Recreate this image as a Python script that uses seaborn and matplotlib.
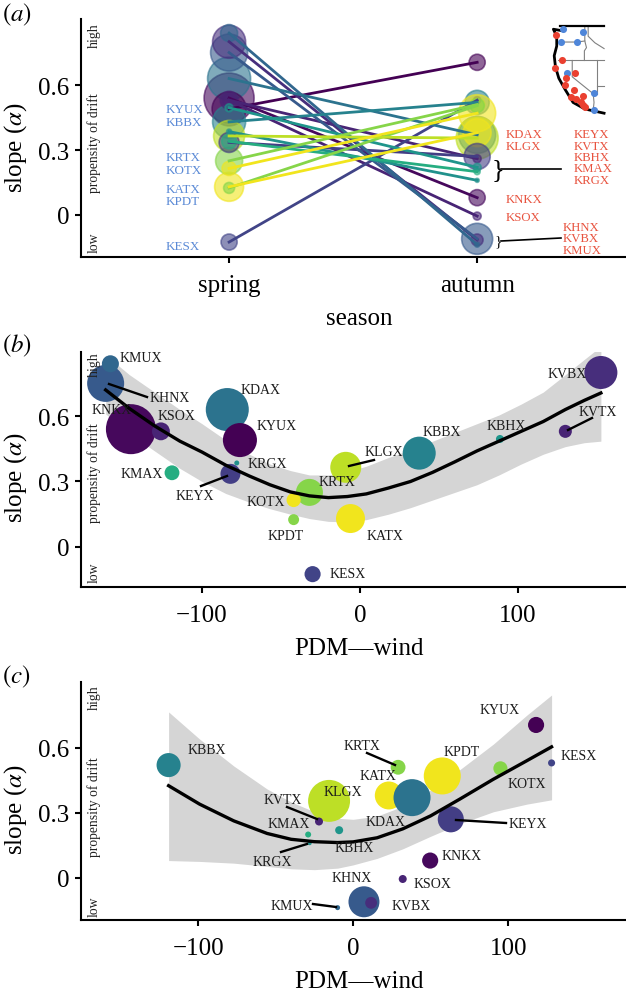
import numpy as np
import pandas as pd

import matplotlib.pyplot as plt
import matplotlib.transforms as mtrans
from matplotlib.lines import Line2D

import seaborn as sns

WIDTH, HEIGHT = 626, 995
DPI = 100

stations = ['KNKX', 'KDAX', 'KHNX', 'KYUX', 'KVBX', 'KBBX', 'KLGX', 'KATX', 'KRTX', 'KEYX',
            'KSOX', 'KMUX', 'KESX', 'KMAX', 'KOTX', 'KVTX', 'KPDT', 'KBHX', 'KRGX']
spring_slope = [0.54, 0.63, 0.75, 0.49, 0.80, 0.43, 0.365, 0.13, 0.25, 0.335,
                0.53, 0.84, -0.125, 0.34, 0.215, 0.53, 0.125, 0.495, 0.385]
autumn_slope = [0.08, 0.37, -0.11, 0.705, -0.115, 0.52, 0.355, 0.38, 0.51, 0.27,
                -0.005, -0.137, 0.53, 0.20, 0.47, 0.26, 0.505, 0.22, 0.16]
spring_wind = [-145, -84, -161, -76, 152.5, 37.5, -9, -6, -32, -82,
               -126, -158, -30, -119, -42, 130, -42, 88.6, -78]
autumn_wind = [49.7, 38, 7, 118, 11.6, -119, -15.5, 23, 29, 63,
               32, -10, 128, -29, 57.5, -22, 95, -9, -28]
spring_n = [250, 185, 137, 116, 109, 109, 96, 84, 73, 40,
            32, 29, 26, 22, 20, 17, 12, 6.4, 2.5]
autumn_n = [26, 137, 96, 26, 14, 58, 176, 78, 22, 68,
            6.4, 2.5, 5, 3.6, 137, 6.4, 20, 6.4, 1.6]
colour_value = [0.02, 0.38, 0.28, 0.0, 0.13, 0.44, 0.9, 0.98, 0.82, 0.18,
                0.1, 0.33, 0.2, 0.62, 0.98, 0.1, 0.82, 0.52, 0.5]

# smooths
fit_b_x = [-161, -146, -130, -114, -100, -85, -70, -57, -44, -32, -20, -8, 4, 18, 32, 46, 60, 74,
           88, 102, 116, 130, 142, 152.5]
fit_b_y = [0.72, 0.635, 0.555, 0.485, 0.435, 0.375, 0.325, 0.285, 0.252, 0.234, 0.226, 0.231, 0.243, 0.27,
           0.30, 0.342, 0.39, 0.44, 0.485, 0.53, 0.575, 0.63, 0.672, 0.706]
fit_b_hi = [0.88, 0.79, 0.71, 0.63, 0.565, 0.49, 0.425, 0.38, 0.35, 0.33, 0.33, 0.345, 0.37, 0.41,
            0.445, 0.485, 0.525, 0.565, 0.605, 0.655, 0.71, 0.79, 0.86, 0.92]
fit_b_lo = [0.61, 0.52, 0.44, 0.36, 0.30, 0.245, 0.205, 0.175, 0.15, 0.13, 0.117, 0.115, 0.125, 0.15,
            0.18, 0.215, 0.25, 0.285, 0.33, 0.38, 0.425, 0.46, 0.478, 0.485]
fit_c_x = [-119, -99, -77, -55.5, -40, -25, -10, 0, 15.5, 32, 50, 69, 90.5, 112, 128]
fit_c_y = [0.425, 0.34, 0.263, 0.205, 0.178, 0.167, 0.163, 0.166, 0.185, 0.226, 0.286, 0.364, 0.455, 0.54, 0.604]
fit_c_hi = [0.765, 0.64, 0.516, 0.41, 0.35, 0.305, 0.275, 0.27, 0.285, 0.33, 0.405, 0.50, 0.617, 0.75, 0.843]
fit_c_lo = [0.08, 0.076, 0.068, 0.053, 0.042, 0.038, 0.045, 0.06, 0.09, 0.134, 0.192, 0.25, 0.305, 0.34, 0.36]

seasons = ['spring', 'autumn']
slope_ticks = [0, 0.3, 0.6]
slope_tick_labels = ['0', '0.3', '0.6']
wind_ticks = [-100, 0, 100]
wind_tick_labels = ['\u2212100', '0', '100']

blue_sites = ['KYUX', 'KBBX', 'KRTX', 'KOTX', 'KATX', 'KPDT', 'KESX']
red_near = ['KDAX', 'KLGX', 'KNKX', 'KSOX']
red_brace_one = ['KEYX', 'KVTX', 'KBHX', 'KMAX', 'KRGX']
red_brace_two = ['KHNX', 'KVBX', 'KMUX']

# map, lon / lat
coast_lon = [-123.0, -124.7, -123.9, -123.9, -124.5, -124.2, -123.4, -121.9, -120.0, -117.2, -112.6]
coast_lat = [48.1, 48.33, 47.0, 45.15, 43.3, 41.17, 39.03, 36.9, 34.44, 33.2, 32.4]
border_lon = [-123.1, -112.6]
border_lat = [49.0, 49.0]
state_lines = {
    'wa_or': ([-123.0, -119.0, -117.2], [45.9, 45.9, 46.1]),
    'id_w': ([-117.2, -117.2, -116.8, -117.3, -117.3], [49.0, 46.1, 44.84, 44.23, 42.4]),
    'id_e': ([-116.4, -116.4, -114.8, -112.6], [49.0, 47.0, 45.76, 44.66]),
    'or_ca': ([-123.5, -112.6], [42.4, 42.4]),
    'ca_nv': ([-120.2, -120.2, -115.2, -115.0, -115.2], [42.4, 39.3, 36.1, 34.44, 32.9]),
    'nv_e': ([-114.4, -114.4], [42.4, 36.1]),
    'az_ut': ([-114.4, -112.6], [37.5, 37.5]),
}
blue_lon = [-122.4, -117.7, -123.0, -119.0, -121.5, -115.1, -114.9]
blue_lat = [48.33, 47.8, 45.88, 45.88, 39.95, 36.2, 33.1]
red_lon = [-124.1, -122.65, -124.2, -119.6, -121.6, -121.9, -119.7, -117.7, -120.5, -119.2, -118.1, -117.6, -117.2]
red_lat = [47.3, 42.4, 40.9, 40.1, 39.0, 37.7, 36.8, 35.7, 35.5, 35.05, 34.6, 34.0, 33.5]

plt.rcParams['font.family'] = ['Liberation Serif', 'DejaVu Serif']
plt.rcParams['mathtext.fontset'] = 'stix'

df = pd.DataFrame({'station': stations, 'spring': spring_slope, 'autumn': autumn_slope,
                   'spring_wind': spring_wind, 'autumn_wind': autumn_wind,
                   'spring_n': spring_n, 'autumn_n': autumn_n, 'colour': colour_value})

fig = plt.figure(figsize=(WIDTH / DPI, HEIGHT / DPI), dpi=DPI)
# labels are placed in picture pixels, y going down
px = mtrans.Affine2D().scale(1 / WIDTH, -1 / HEIGHT).translate(0, 1) + fig.transFigure

# area of a marker in pt^2 per unit of n
SIZE_NORM = (1, 250)
SIZES = (5.184, 1296)
SCATTER = dict(hue='colour', palette='viridis', hue_norm=(0, 1), size_norm=SIZE_NORM,
               sizes=SIZES, legend=False)


def make_axes(top, bottom, xlim, ylim):
    ax = fig.add_axes([81 / WIDTH, 1 - bottom / HEIGHT, (WIDTH - 81) / WIDTH, (bottom - top) / HEIGHT])
    ax.set_xlim(*xlim)
    ax.set_ylim(*ylim)
    sns.despine(ax=ax)
    for side in ('left', 'bottom'):
        ax.spines[side].set_linewidth(1.5)
    ax.tick_params(width=1.5, length=4.3, labelsize=18, pad=4)
    ax.tick_params(axis='x', pad=8)
    ax.set_yticks(slope_ticks, slope_tick_labels)
    return ax


def side_text(high, mid, low):
    for y, word in ((high, 'high'), (mid, 'propensity of drift'), (low, 'low')):
        fig.text(94, y, word, transform=px, rotation=90, ha='center', va='center', fontsize=9.8, color='#222222')


def axis_text(ax, xlabel, ylabel_y, xlabel_y, panel, panel_y):
    ax.set_xlabel(xlabel, fontsize=18)
    ax.xaxis.set_label_coords(359, xlabel_y, transform=px)
    ax.set_ylabel('slope ($\\alpha$)', fontsize=18)
    ax.yaxis.set_label_coords(22, ylabel_y, transform=px)
    ax.xaxis.label.set_va('center')
    ax.yaxis.label.set_va('baseline')
    fig.text(2, panel_y, panel, transform=px, va='center', fontsize=18, math_fontfamily='stix')


def labels(table, colour='#1a1a1a', ha='center', size=10):
    for name, (x, y) in table.items():
        fig.text(x, y, name, transform=px, ha=ha, va='center', fontsize=size, color=colour)


def leaders(segments, lw=1.7):
    for x0, y0, x1, y1 in segments:
        fig.add_artist(Line2D([x0, x1], [y0, y1], transform=px, color='black', lw=lw))


def wind_panel(ax, data, x, y, n, fit_x, fit_y, fit_hi, fit_lo):
    ax.fill_between(fit_x, fit_lo, fit_hi, color='#d5d5d5', lw=0)
    sns.lineplot(x=fit_x, y=fit_y, sort=False, estimator=None, color='black', lw=2.4, ax=ax)
    sns.scatterplot(data=data, x=x, y=y, size=n, linewidth=0, ax=ax, **SCATTER)
    ax.set_xticks(wind_ticks, wind_tick_labels)


# (a) slope by season
ax_a = make_axes(20, 258, (-0.597, 1.6), (-0.194, 0.905))
long_df = df.melt(id_vars=['station', 'colour'], value_vars=seasons, var_name='season', value_name='slope')
long_df['pos'] = long_df['season'].map({'spring': 0, 'autumn': 1})
long_df['n'] = list(spring_n) + list(autumn_n)
sns.lineplot(data=long_df, x='pos', y='slope', units='station', estimator=None, hue='colour',
             palette='viridis', hue_norm=(0, 1), lw=2.0, legend=False, ax=ax_a)
sns.scatterplot(data=long_df, x='pos', y='slope', size='n', alpha=0.6, edgecolor='face', linewidth=1.2,
                ax=ax_a, **SCATTER)
ax_a.set_xticks([0, 1], seasons)
axis_text(ax_a, 'season', 148, 319, '$\\mathit{(a)}$', 15)
side_text(36, 143, 243)

blue_y = [110, 123, 158, 171, 190, 202, 247]
labels({s: (166, y) for s, y in zip(blue_sites, blue_y)}, colour='#5b8ad6', ha='left', size=9.4)
red_pos = dict(zip(red_near, [(506, 135), (506, 147), (506, 200), (506, 218)]))
red_pos.update({s: (574, y) for s, y in zip(red_brace_one, [135, 146.5, 158, 169.5, 181])})
red_pos.update({s: (563, y) for s, y in zip(red_brace_two, [228, 239.5, 251])})
labels(red_pos, colour='#e8533f', ha='left', size=9.2)
fig.text(498, 170, '}', transform=px, ha='center', va='center', fontsize=19)
fig.text(498, 242, '}', transform=px, ha='center', va='center', fontsize=11)
leaders([(501, 170, 561, 170), (501, 242, 561, 239)], lw=1.2)

# inset map
ax_map = fig.add_axes([545 / WIDTH, 1 - 123 / HEIGHT, 75 / WIDTH, 105 / HEIGHT])
ax_map.set_xlim(-126.7, -108.8)
ax_map.set_ylim(30.73, 50.65)
ax_map.axis('off')
for lon, lat in state_lines.values():
    sns.lineplot(x=lon, y=lat, sort=False, estimator=None, color='#808080', lw=0.8, ax=ax_map)
sns.lineplot(x=coast_lon, y=coast_lat, sort=False, estimator=None, color='black', lw=2.0, ax=ax_map)
sns.lineplot(x=border_lon, y=border_lat, sort=False, estimator=None, color='black', lw=1.6, ax=ax_map)
sns.scatterplot(x=blue_lon, y=blue_lat, color='#4f86d9', s=26, linewidth=0, ax=ax_map, zorder=3)
sns.scatterplot(x=red_lon, y=red_lat, color='#ea4030', s=26, linewidth=0, ax=ax_map, zorder=3)

# (b) spring slope against wind
ax_b = make_axes(353, 588, (-176.6, 168.4), (-0.184, 0.894))
wind_panel(ax_b, df, 'spring_wind', 'spring', 'spring_n', fit_b_x, fit_b_y, fit_b_hi, fit_b_lo)
axis_text(ax_b, 'PDM\u2014wind', 478, 649, '$\\mathit{(b)}$', 346)
side_text(365, 473, 573)
labels({'KMUX': (141, 359), 'KHNX': (170, 399), 'KNKX': (112, 410), 'KSOX': (176, 417), 'KDAX': (261, 391),
        'KYUX': (277, 426), 'KRGX': (267, 464), 'KMAX': (142, 474), 'KEYX': (195, 497), 'KOTX': (266, 502),
        'KPDT': (286, 536), 'KESX': (348, 574), 'KLGX': (384, 453), 'KRTX': (337, 483), 'KATX': (385, 536),
        'KBBX': (442, 432), 'KBHX': (506, 426), 'KVTX': (598, 412), 'KVBX': (567, 375)})
leaders([(109, 385, 147, 398), (201, 487, 227, 477), (349, 467, 374, 461), (568, 431, 592, 419)])

# (c) autumn slope against wind
ax_c = make_axes(683, 921, (-175.5, 176), (-0.194, 0.903))
wind_panel(ax_c, df.sort_values('colour', ascending=False), 'autumn_wind', 'autumn', 'autumn_n',
           fit_c_x, fit_c_y, fit_c_hi, fit_c_lo)
axis_text(ax_c, 'PDM\u2014wind', 810, 982, '$\\mathit{(c)}$', 677)
side_text(698, 807, 907)
labels({'KBBX': (207, 750), 'KVTX': (283, 801), 'KMAX': (289, 825), 'KRGX': (272, 862), 'KMUX': (292, 906),
        'KLGX': (343, 793), 'KBHX': (354, 848), 'KDAX': (386, 823), 'KATX': (378, 777), 'KRTX': (362, 746),
        'KPDT': (462, 753), 'KEYX': (528, 824), 'KOTX': (527, 785), 'KYUX': (500, 710), 'KESX': (579, 757),
        'KNKX': (462, 857), 'KSOX': (432, 884), 'KHNX': (352, 879), 'KVBX': (411, 906)})
leaders([(287, 808, 317, 820), (281, 853, 307, 845), (313, 905, 336, 908), (367, 754, 395, 766), (456, 821, 506, 824)])

fig.savefig('out.png', dpi=DPI)
